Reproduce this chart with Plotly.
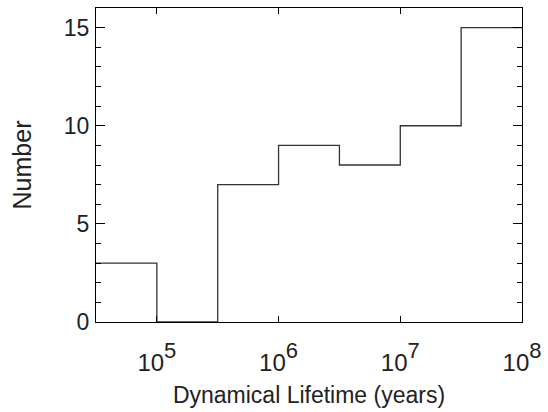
import plotly.graph_objects as go

# Data: half-decade bins of log10(Dynamical lifetime / years)
bin_edges_log = [4.5, 5.0, 5.5, 6.0, 6.5, 7.0, 7.5, 8.0]
counts = [3, 0, 7, 9, 8, 10, 15]
x_tick_exponents = [5, 6, 7, 8]
y_ticks = [0, 5, 10, 15]

xs = [10 ** e for e in bin_edges_log]
ys = counts + [counts[-1]]

FONT = "Liberation Sans, Arial, Helvetica, sans-serif"

fig = go.Figure()
fig.add_trace(go.Scatter(
    x=xs, y=ys, mode="lines", line_shape="hv",
    line=dict(color="#333333", width=1.3), showlegend=False, hoverinfo="skip",
))

fig.update_layout(
    width=548, height=412,
    margin=dict(l=96, r=26, t=8, b=90),
    paper_bgcolor="white", plot_bgcolor="white",
    font=dict(family=FONT, size=20, color="#222222"),
)
fig.update_xaxes(
    type="log", range=[4.5, 8],
    tickvals=[10 ** e for e in x_tick_exponents],
    ticktext=[f'10<span style="font-size:22px;baseline-shift:60%">{e}</span>' for e in x_tick_exponents],
    ticks="inside", ticklen=6, tickcolor="black", tickwidth=1,
    showline=True, linecolor="black", linewidth=1.3, mirror="ticks",
    showgrid=False, zeroline=False,
    tickfont=dict(size=24),
    ticklabelstandoff=19,
    title=dict(text="Dynamical Lifetime (years)", font=dict(size=23), standoff=11),
)
fig.update_yaxes(
    range=[0, 16], tickvals=y_ticks,
    ticks="inside", ticklen=9, tickcolor="black", tickwidth=1,
    minor=dict(dtick=1, ticks="inside", ticklen=5, tickcolor="black", tickwidth=1, showgrid=False),
    showline=True, linecolor="black", linewidth=1.3, mirror="ticks",
    showgrid=False, zeroline=False,
    tickfont=dict(size=23),
    ticklabelstandoff=1,
    title=dict(text="Number", font=dict(size=25), standoff=24),
)

fig.write_html("out.html")
